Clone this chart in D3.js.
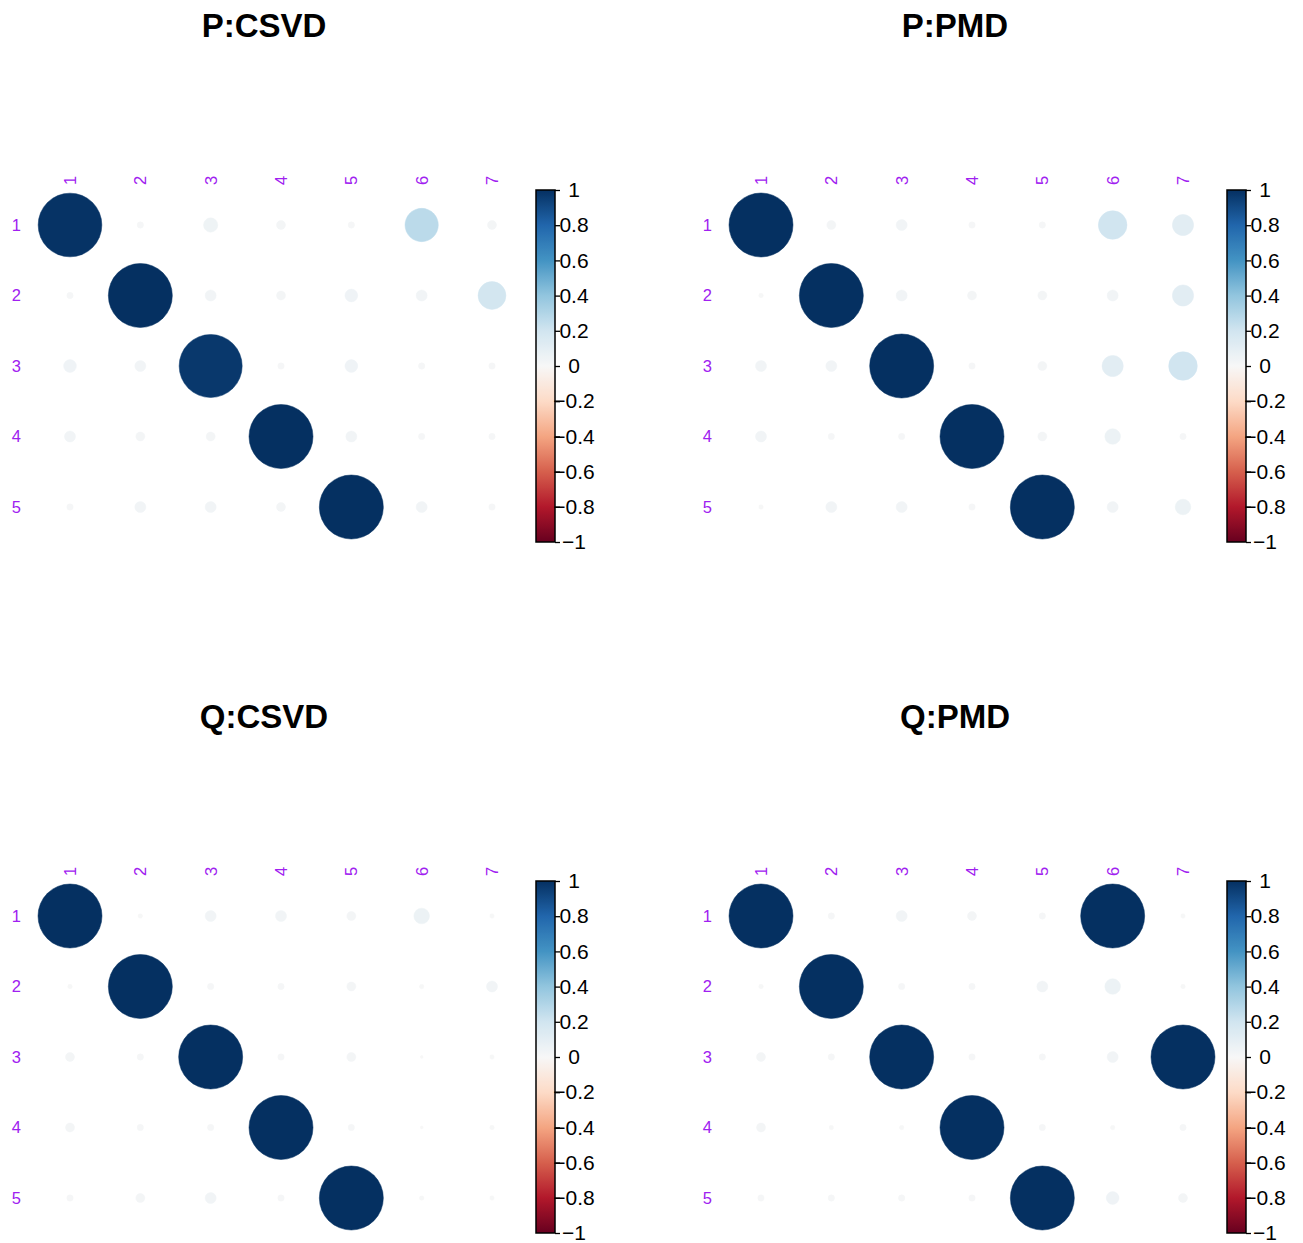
<!DOCTYPE html>
<html>
<head>
<meta charset="utf-8">
<script src="https://cdn.jsdelivr.net/npm/d3@7"></script>
<style>
  html, body { margin: 0; padding: 0; background: #fff; }
  svg { display: block; font-family: "Liberation Sans", Arial, Helvetica, sans-serif; }
</style>
</head>
<body>
<svg id="chart" width="1303" height="1243"></svg>
<script>
// ---------- data ----------
const rowLabels = ["1", "2", "3", "4", "5"];
const colLabels = ["1", "2", "3", "4", "5", "6", "7"];
const panelTitles = ["P:CSVD", "P:PMD", "Q:CSVD", "Q:PMD"];
const legendTicks = [1, 0.8, 0.6, 0.4, 0.2, 0, -0.2, -0.4, -0.6, -0.8, -1];

const pCSVD = [
  [0.99, 0.01, 0.05, 0.02, 0.01, 0.27, 0.02],
  [0.01, 1.00, 0.03, 0.02, 0.04, 0.03, 0.19],
  [0.04, 0.03, 0.97, 0.01, 0.04, 0.01, 0.01],
  [0.03, 0.02, 0.02, 1.00, 0.03, 0.01, 0.01],
  [0.01, 0.03, 0.03, 0.02, 1.00, 0.03, 0.01]
];
const pPMD = [
  [1.00, 0.02, 0.03, 0.01, 0.01, 0.20, 0.11],
  [0.005, 1.00, 0.03, 0.02, 0.02, 0.03, 0.11],
  [0.03, 0.03, 1.00, 0.01, 0.02, 0.11, 0.20],
  [0.03, 0.01, 0.01, 1.00, 0.02, 0.06, 0.01],
  [0.005, 0.03, 0.03, 0.01, 1.00, 0.03, 0.06]
];
const qCSVD = [
  [1.00, 0.005, 0.03, 0.03, 0.02, 0.06, 0.005],
  [0.005, 1.00, 0.01, 0.01, 0.02, 0.005, 0.03],
  [0.02, 0.01, 1.00, 0.01, 0.02, 0.002, 0.005],
  [0.02, 0.01, 0.01, 1.00, 0.01, 0.002, 0.005],
  [0.01, 0.02, 0.03, 0.01, 1.00, 0.005, 0.005]
];
const qPMD = [
  [1.00, 0.01, 0.03, 0.02, 0.01, 1.00, 0.005],
  [0.005, 1.00, 0.01, 0.01, 0.03, 0.06, 0.005],
  [0.02, 0.01, 1.00, 0.01, 0.01, 0.03, 1.00],
  [0.02, 0.005, 0.005, 1.00, 0.01, 0.005, 0.01],
  [0.01, 0.01, 0.01, 0.01, 1.00, 0.04, 0.02]
];
const matrices = [pCSVD, pPMD, qCSVD, qPMD];

// corrplot COL2('RdBu') anchor colours
const rdbuStops = ["#67001F", "#B2182B", "#D6604D", "#F4A582", "#FDDBC7", "#F7F7F7",
                   "#D1E5F0", "#92C5DE", "#4393C3", "#2166AC", "#053061"];

// ---------- layout ----------
const svg = d3.select("#chart");
const color = d3.scaleLinear()
  .domain(d3.range(rdbuStops.length).map(i => -1 + 2 * i / (rdbuStops.length - 1)))
  .range(rdbuStops)
  .interpolate(d3.interpolateRgb);

const offsets = [[0, 0], [691, 0], [0, 691], [691, 691]];
const labelColor = "#A020F0";

// gradient for colour bar
const defs = svg.append("defs");
const grad = defs.append("linearGradient").attr("id", "cbar")
  .attr("x1", 0).attr("y1", 1).attr("x2", 0).attr("y2", 0);
d3.range(0, 201).forEach(i => {
  const v = -1 + 2 * i / 200;
  grad.append("stop").attr("offset", (i / 200 * 100) + "%").attr("stop-color", color(v));
});

const x = d3.scalePoint().domain(colLabels).range([70, 492]);
const y = d3.scalePoint().domain(rowLabels).range([225, 507]);
const cell = x.step();
const r = d3.scaleSqrt().domain([0, 1]).range([0, cell * 0.455]);
const yBar = d3.scaleLinear().domain([-1, 1]).range([542, 190]);

matrices.forEach((m, k) => {
  const [ox, oy] = offsets[k];
  const g = svg.append("g").attr("transform", `translate(${ox},${oy})`);

  g.append("text")
    .attr("x", 264).attr("y", 37)
    .attr("text-anchor", "middle")
    .attr("font-size", 33).attr("font-weight", "bold")
    .attr("fill", "#000")
    .text(panelTitles[k]);

  const cells = [];
  m.forEach((row, i) => row.forEach((v, j) => cells.push({ r: rowLabels[i], c: colLabels[j], v })));

  g.selectAll("circle.cell").data(cells).join("circle")
    .attr("class", "cell")
    .attr("cx", d => x(d.c))
    .attr("cy", d => y(d.r))
    .attr("r", d => r(Math.abs(d.v)))
    .attr("fill", d => color(d.v))
    .attr("stroke", d => color(d.v))
    .attr("stroke-width", 0.5);

  // row labels
  g.selectAll("text.rl").data(rowLabels).join("text")
    .attr("class", "rl")
    .attr("x", 21).attr("y", d => y(d))
    .attr("dy", "0.36em")
    .attr("text-anchor", "end")
    .attr("font-size", 16.5)
    .attr("fill", labelColor)
    .text(d => d);

  // column labels (rotated)
  g.selectAll("text.cl").data(colLabels).join("text")
    .attr("class", "cl")
    .attr("transform", d => `translate(${x(d)},185) rotate(-90)`)
    .attr("dy", "0.36em")
    .attr("text-anchor", "start")
    .attr("font-size", 16.5)
    .attr("fill", labelColor)
    .text(d => d);

  // colour bar
  const bx = 536, bw = 19;
  g.append("rect")
    .attr("x", bx).attr("y", yBar(1))
    .attr("width", bw).attr("height", yBar(-1) - yBar(1))
    .attr("fill", "url(#cbar)")
    .attr("stroke", "#000").attr("stroke-width", 1.5);

  const axis = d3.axisRight(yBar).tickValues(legendTicks)
    .tickSize(5).tickPadding(2);
  const ag = g.append("g").attr("transform", `translate(${bx + bw},0)`).call(axis);
  ag.select(".domain").remove();
  ag.selectAll(".tick line").attr("stroke", "#000").attr("stroke-width", 1.3);
  ag.selectAll(".tick text")
    .attr("font-size", 21)
    .attr("fill", "#000")
    .attr("font-family", "Liberation Sans, Arial, sans-serif")
    .attr("x", 19)
    .attr("text-anchor", "middle")
    .text(d => d === 0 ? "0" : (d < 0 ? "\u2212" : "") + String(Math.abs(d)));
});
</script>
</body>
</html>
